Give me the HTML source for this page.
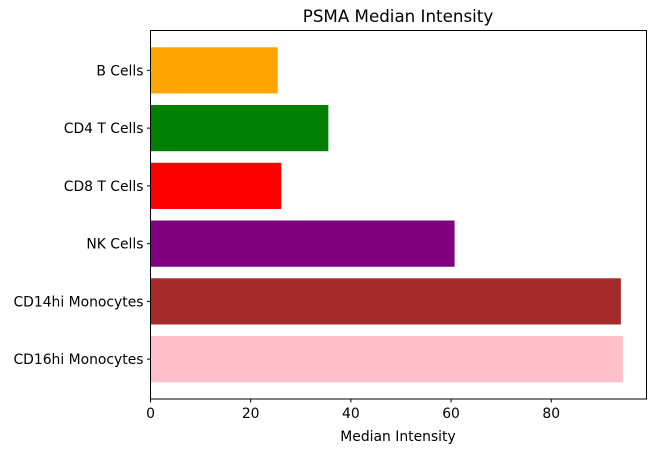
<!DOCTYPE html>
<html><head><meta charset="utf-8"><style>
body{margin:0;background:#fff;font-family:"DejaVu Sans","Liberation Sans",sans-serif;}
svg text{font-family:"DejaVu Sans","Liberation Sans",sans-serif;font-size:13.9px;fill:#000;}
</style></head><body>
<svg id="chart" width="659" height="453">
<text x="398" y="22" text-anchor="middle" style="font-size:16.7px">PSMA Median Intensity</text>
<g id="bars"></g>
<rect x="150.5" y="30.5" width="496" height="368.5" fill="none" stroke="#000" stroke-width="1"/>
<g id="axes"></g>
<text x="398" y="441" text-anchor="middle">Median Intensity</text>
</svg>
<script>
const categories=["B Cells","CD4 T Cells","CD8 T Cells","NK Cells","CD14hi Monocytes","CD16hi Monocytes"];
const values=[25.4,35.5,26.1,60.7,93.9,94.3];
const colors=["orange","green","red","purple","brown","pink"];
const xTicks=[0,20,40,60,80];
const ns="http://www.w3.org/2000/svg";
const L=150.5,R=646.5,T=30.5,B=399;
const xmax=Math.max(...values)*1.05;
const x=v=>L+v/xmax*(R-L);
const n=categories.length;
const span=(n-1+0.8)*1.1;
const step=(B-T)/span;
const y=i=>T+step*(0.4+0.05*(n-1+0.8))+i*step;
const g=document.getElementById('bars'),ax=document.getElementById('axes');
categories.forEach((c,i)=>{
 const r=document.createElementNS(ns,'rect');
 r.setAttribute('x',L);r.setAttribute('y',y(i)-step*0.4);
 r.setAttribute('width',x(values[i])-L);r.setAttribute('height',step*0.8);
 r.setAttribute('fill',colors[i]);
 
 
 g.appendChild(r);
 const t=document.createElementNS(ns,'line');
 t.setAttribute('x1',L-3.5);t.setAttribute('x2',L);t.setAttribute('y1',y(i));t.setAttribute('y2',y(i));t.setAttribute('stroke','#000');
 
 
 ax.appendChild(t);
 const l=document.createElementNS(ns,'text');
 l.setAttribute('x',L-7);l.setAttribute('y',y(i)+5);l.setAttribute('text-anchor','end');l.textContent=c;
 
 
 ax.appendChild(l);
});
xTicks.forEach(v=>{
 const t=document.createElementNS(ns,'line');
 t.setAttribute('x1',x(v));t.setAttribute('x2',x(v));t.setAttribute('y1',B);t.setAttribute('y2',B+3.5);t.setAttribute('stroke','#000');
 
 
 ax.appendChild(t);
 const l=document.createElementNS(ns,'text');
 l.setAttribute('x',x(v));l.setAttribute('y',B+19);l.setAttribute('text-anchor','middle');l.textContent=v;
 
 
 ax.appendChild(l);
});
</script>
</body></html>
